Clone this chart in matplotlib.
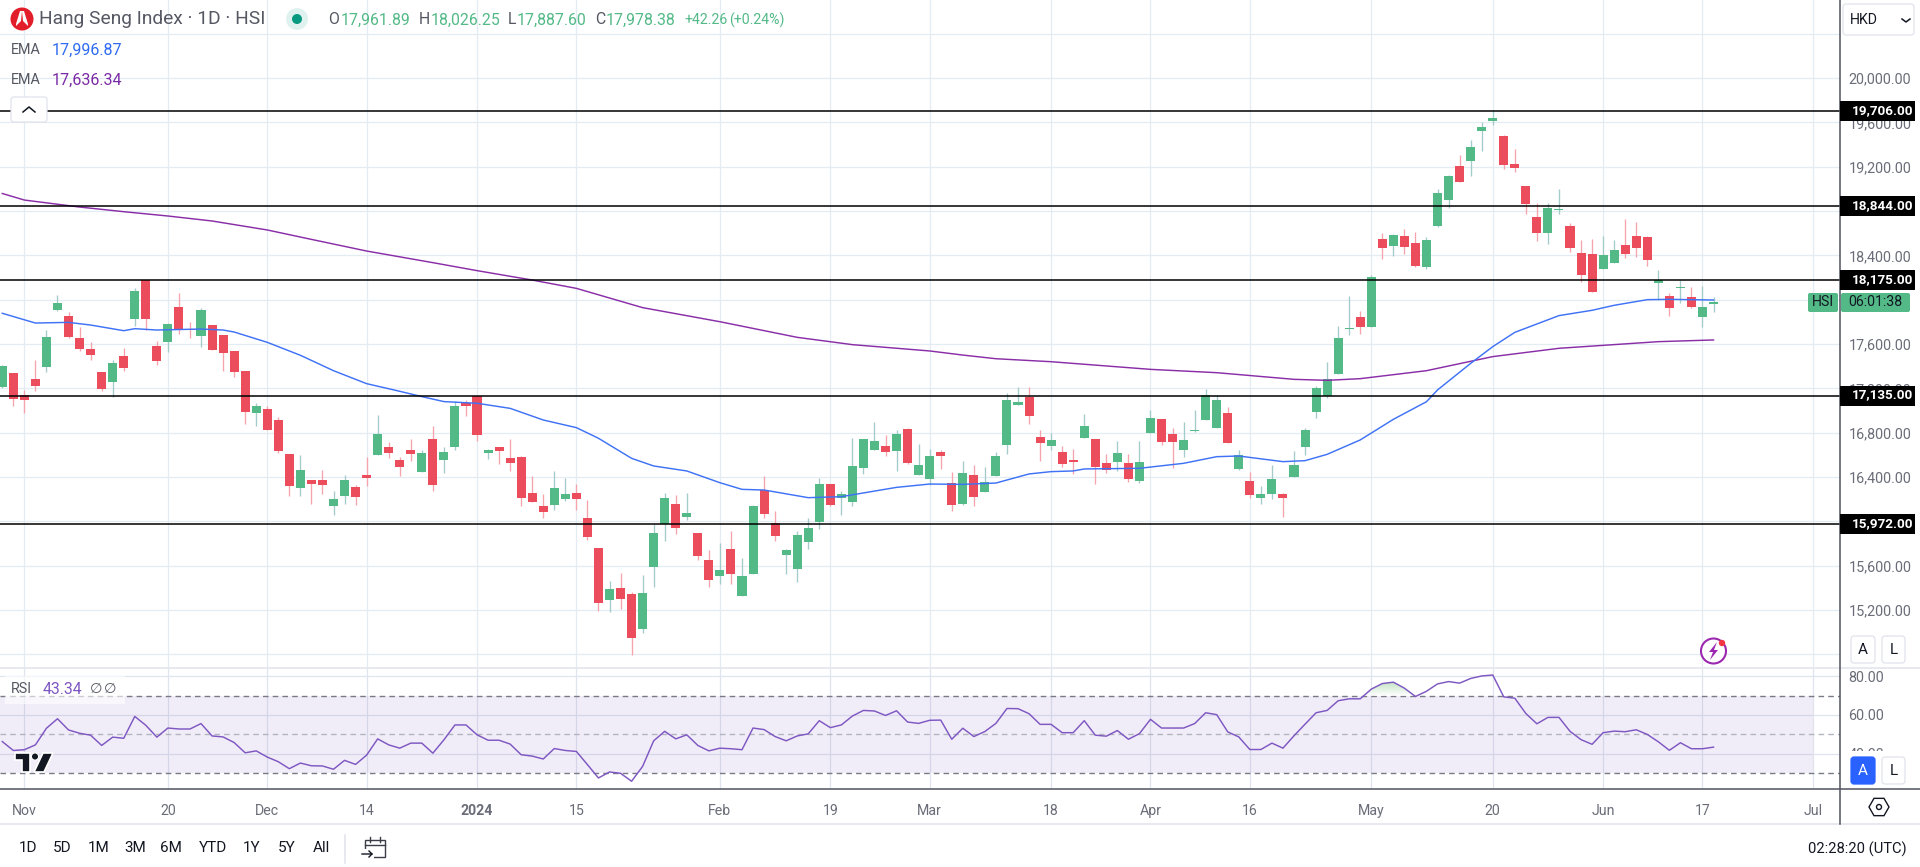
import numpy as np
import matplotlib
matplotlib.use("Agg")
import matplotlib.pyplot as plt
from matplotlib.patches import Circle, FancyBboxPatch, Polygon, Rectangle, RegularPolygon

plt.rcParams['font.family'] = ['Roboto', 'DejaVu Sans']

opens = [17212, 17338, 17140, 17284, 17392, 17907, 17853, 17654, 17555, 17347, 17257, 17492, 17825, 18178, 17582, 17618,
         17934, 17735, 17672, 17771, 17681, 17537, 17356, 16977, 17013, 16914, 16607, 16301, 16373, 16373, 16138, 16228,
         16310, 16418, 16598, 16671, 16553, 16644, 16445, 16743, 16553, 16671, 17068, 17131, 16616, 16670, 16571, 16580,
         16255, 16138, 16147, 16201, 16255, 16030, 15759, 15290, 15398, 15344, 15028, 15588, 15976, 16156, 16039, 15894,
         15651, 15506, 15750, 15326, 15524, 16282, 15985, 15696, 15569, 15813, 15994, 16337, 16210, 16174, 16481, 16643,
         16679, 16634, 16833, 16418, 16382, 16625, 16346, 16156, 16418, 16264, 16409, 16689, 17049, 17122, 16761, 16679,
         16625, 16553, 16752, 16743, 16526, 16535, 16526, 16364, 16797, 16923, 16788, 16643, 16815, 16914, 16842, 16977,
         16472, 16364, 16210, 16246, 16246, 16400, 16670, 16986, 17131, 17329, 17735, 17844, 17753, 18547, 18484, 18574,
         18511, 18295, 18665, 18899, 19206, 19251, 19522, 19612, 19477, 19224, 19026, 18746, 18602, 18812, 18665, 18421,
         18412, 18277, 18331, 18493, 18574, 18565, 18150, 18033, 18105, 18024, 17844, 17961.89]
highs = [17411, 17338, 17185, 17456, 17726, 18042, 17889, 17753, 17618, 17347, 17456, 17564, 18105, 18178, 17627, 17786,
         18060, 17798, 17924, 17771, 17681, 17537, 17356, 17067, 17040, 16941, 16607, 16598, 16373, 16463, 16273, 16418,
         16328, 16580, 16960, 16716, 16580, 16743, 16644, 16860, 16671, 17086, 17095, 17131, 16652, 16670, 16743, 16589,
         16409, 16246, 16454, 16391, 16337, 16192, 15759, 15461, 15533, 15362, 15515, 15976, 16255, 16237, 16255, 15894,
         15741, 15804, 15912, 15669, 16147, 16409, 16093, 15750, 15912, 16030, 16391, 16337, 16273, 16752, 16743, 16896,
         16779, 16824, 16842, 16697, 16652, 16643, 16445, 16544, 16508, 16490, 16625, 17158, 17212, 17212, 16824, 16797,
         16679, 16652, 16968, 16743, 16607, 16725, 16607, 16725, 17004, 16923, 16842, 16896, 17004, 17194, 17140, 17031,
         16643, 16445, 16319, 16508, 16255, 16634, 16842, 17221, 17438, 17762, 18033, 17898, 18223, 18602, 18593, 18638,
         18611, 18565, 18999, 19125, 19305, 19441, 19603, 19712, 19486, 19360, 19026, 18872, 18872, 18999, 18692, 18538,
         18547, 18574, 18538, 18728, 18701, 18574, 18268, 18060, 18177, 18114, 18123, 18026.25]
lows = [17200, 17040, 16977, 17176, 17347, 17898, 17654, 17537, 17456, 17176, 17122, 17356, 17762, 17726, 17410, 17528,
        17690, 17654, 17573, 17546, 17356, 17302, 16878, 16860, 16823, 16616, 16228, 16228, 16156, 16246, 16057, 16156,
        16147, 16319, 16598, 16571, 16409, 16544, 16445, 16273, 16436, 16644, 16950, 16725, 16562, 16517, 16454, 16138,
        16174, 16030, 16102, 16183, 16102, 15831, 15190, 15181, 15209, 14793, 14992, 15407, 15822, 15885, 16012, 15651,
        15407, 15434, 15434, 15326, 15524, 16030, 15822, 15524, 15452, 15750, 15930, 16138, 16057, 16138, 16427, 16643,
        16589, 16454, 16517, 16418, 16327, 16472, 16093, 16147, 16138, 16264, 16409, 16607, 17049, 16878, 16544, 16643,
        16490, 16427, 16752, 16337, 16436, 16454, 16355, 16346, 16797, 16689, 16481, 16580, 16806, 16914, 16842, 16707,
        16463, 16210, 16156, 16201, 16039, 16400, 16598, 16932, 17113, 17329, 17681, 17690, 17753, 18367, 18394, 18412,
        18295, 18277, 18656, 18827, 19062, 19116, 19342, 19576, 19179, 19152, 18773, 18529, 18502, 18773, 18430, 18159,
        18069, 18277, 18331, 18376, 18385, 18304, 17997, 17853, 17970, 17925, 17753, 17887.60]
closes = [17401, 17104, 17095, 17221, 17663, 17970, 17663, 17555, 17501, 17194, 17428, 17383, 18078, 17825, 17446, 17780,
          17726, 17726, 17907, 17546, 17518, 17347, 16986, 17040, 16823, 16634, 16319, 16463, 16337, 16328, 16201, 16373,
          16219, 16391, 16788, 16617, 16490, 16607, 16617, 16328, 16626, 17041, 17041, 16779, 16643, 16634, 16526, 16210,
          16174, 16084, 16300, 16246, 16201, 15858, 15263, 15389, 15299, 14947, 15353, 15894, 16210, 15939, 16075, 15687,
          15470, 15560, 15524, 15506, 16138, 16066, 15867, 15741, 15876, 15939, 16337, 16147, 16246, 16499, 16743, 16725,
          16625, 16788, 16526, 16508, 16589, 16589, 16147, 16436, 16219, 16355, 16589, 17095, 17077, 16950, 16707, 16734,
          16517, 16535, 16860, 16490, 16463, 16616, 16382, 16535, 16932, 16716, 16716, 16734, 16824, 17140, 17095, 16707,
          16598, 16237, 16246, 16382, 16210, 16508, 16824, 17203, 17284, 17654, 17744, 17753, 18205, 18466, 18584, 18475,
          18304, 18538, 18963, 19116, 19062, 19378, 19558, 19639, 19215, 19188, 18863, 18602, 18827, 18821, 18466, 18223,
          18069, 18403, 18448, 18412, 18466, 18358, 18177, 17925, 18114, 17934, 17934, 17978.38]

ema50_days = [0, 3, 6, 8, 11, 12, 14, 18, 20, 21, 24, 27, 30, 33, 36, 38, 40, 43, 46, 49, 52, 54, 57, 59, 62, 65, 67, 69,
              73, 76, 81, 84, 87, 90, 93, 95, 97, 98, 103, 107, 110, 112, 116, 118, 120, 123, 126, 129, 130, 133, 135,
              137, 141, 144, 146, 149, 151, 155]
ema50 = [17877, 17789, 17795, 17771, 17720, 17738, 17726, 17735, 17726, 17708, 17615, 17498, 17359, 17242, 17173, 17125,
         17080, 17065, 17019, 16914, 16845, 16749, 16568, 16499, 16454, 16348, 16288, 16282, 16213, 16222, 16306, 16336,
         16333, 16345, 16427, 16448, 16454, 16472, 16478, 16523, 16583, 16589, 16538, 16547, 16604, 16734, 16920, 17079,
         17185, 17425, 17576, 17705, 17856, 17904, 17949, 18000, 18003, 17996.87]
ema200_days = [0, 2, 7, 11, 15, 19, 24, 28, 33, 39, 43, 48, 52, 58, 65, 72, 77, 84, 87, 90, 95, 104, 110, 117, 120, 123,
               129, 135, 141, 150, 155]
ema200 = [18958, 18899, 18836, 18794, 18755, 18710, 18629, 18544, 18439, 18334, 18262, 18177, 18102, 17928, 17801, 17660,
          17594, 17537, 17500, 17467, 17440, 17371, 17341, 17281, 17272, 17287, 17359, 17486, 17561, 17621, 17636.34]

rsi = [46.2, 41.6, 42.0, 44.5, 53.1, 58.0, 52.2, 50.5, 49.5, 44.2, 48.5, 47.9, 59.2, 54.6, 48.5, 53.2, 52.7, 52.7, 55.5,
       49.1, 48.6, 45.7, 40.4, 41.4, 38.2, 35.8, 32.2, 35.1, 33.7, 33.6, 31.9, 36.5, 34.4, 39.2, 47.6, 44.5, 42.8, 45.4,
       45.4, 40.2, 47.1, 54.8, 54.8, 49.7, 46.9, 46.9, 44.9, 39.4, 38.7, 37.2, 42.6, 41.6, 41.1, 34.3, 27.4, 30.5, 29.8,
       25.7, 33.4, 46.6, 51.5, 47.6, 49.7, 44.2, 41.4, 42.8, 42.5, 42.0, 53.2, 52.4, 48.8, 46.6, 49.1, 50.2, 57.0, 53.4,
       54.8, 59.4, 62.3, 62.0, 59.7, 62.1, 56.3, 55.6, 57.2, 57.3, 47.4, 53.1, 48.8, 51.4, 55.6, 63.3, 63.2, 60.6, 55.1,
       55.1, 50.8, 50.8, 57.0, 49.5, 49.0, 51.9, 47.4, 50.3, 57.7, 53.2, 53.2, 53.2, 55.5, 61.1, 60.1, 51.2, 48.6, 42.1,
       42.1, 45.4, 42.8, 49.2, 55.2, 61.1, 62.3, 67.3, 68.3, 68.3, 73.3, 76.2, 76.9, 73.8, 69.5, 72.2, 76.0, 77.2, 76.4,
       78.8, 80.1, 80.6, 69.3, 68.6, 60.7, 55.4, 58.7, 58.7, 51.5, 47.2, 44.8, 50.8, 51.6, 51.3, 52.3, 49.9, 46.1, 41.7,
       45.6, 42.5, 42.5, 43.34]

levels = [19706, 18844, 18175, 17135, 15972]
price_ticks = [14800, 15200, 15600, 16000, 16400, 16800, 17200, 17600, 18000, 18400, 18800, 19200, 19600, 20000, 20400]
hidden_ticks = [14800, 16000, 18000, 18800, 20400]
rsi_ticks = [40, 60, 80]
time_ticks = [2, 15, 24, 33, 43, 52, 65, 75, 84, 95, 104, 113, 124, 135, 145, 154, 164]
time_labels = ['Nov', '20', 'Dec', '14', '2024', '15', 'Feb', '19', 'Mar', '18', 'Apr', '16', 'May', '20', 'Jun', '17', 'Jul']
periods = ['1D', '5D', '1M', '3M', '6M', 'YTD', '1Y', '5Y', 'All']

GREEN = '#53b987'
RED = '#eb4d5c'
GRID = '#e3ecf2'
AXIS = '#50535e'
GREY = '#6a6d78'
INK = '#131722'
WIDTH, HEIGHT = 1920, 867
AXIS_X = 1839.5

fig = plt.figure(figsize=(WIDTH / 100, HEIGHT / 100), dpi=100)


def pane(top, bottom):
    return fig.add_axes([0, 1 - bottom / HEIGHT, AXIS_X / WIDTH, (bottom - top) / HEIGHT])


ax = pane(0, 668)
ax_rsi = pane(669, 789)
x_limits = (-0.208, 166.41)
days = np.arange(len(closes))

# candles
up = np.array(closes) >= np.array(opens)
body_low = np.minimum(opens, closes)
body_high = np.maximum(opens, closes)
ax.vlines(days[up], np.array(lows)[up], np.array(highs)[up], color='#a3cbc9', lw=0.95, zorder=3)
ax.vlines(days[~up], np.array(lows)[~up], np.array(highs)[~up], color='#f7a3ae', lw=0.95, zorder=3)
ax.bar(days, np.maximum(body_high - body_low, 8), bottom=body_low, width=0.82,
       color=[GREEN if u else RED for u in up], linewidth=0, zorder=4)

ax.plot(ema200_days, ema200, color='#8a2ea8', lw=1.05, zorder=5)
ax.plot(ema50_days, ema50, color='#3f72f5', lw=1.05, zorder=5)
ax.hlines(levels, *x_limits, color='black', lw=1.1, zorder=6)

ax.set_xlim(*x_limits)
ax.set_ylim(14675.7, 20704.5)
ax.set_xticks(time_ticks)
ax.set_yticks(price_ticks)
ax.set_yticklabels(['' if p in hidden_ticks else f'{p:,.2f}' for p in price_ticks])
ax.grid(True, color=GRID, lw=0.9, zorder=0)
ax.set_axisbelow(True)
ax.yaxis.tick_right()
ax.tick_params(axis='y', length=0, pad=6.5, labelsize=10.4, labelcolor=GREY)
ax.tick_params(axis='x', length=0, labelbottom=False)
for s in ax.spines.values():
    s.set_visible(False)

# rsi pane
ax_rsi.fill_between([x_limits[0], 164], 30, 70, color='#7e57c2', alpha=0.1, linewidth=0, zorder=1)
for value, col in [(70, '#787b86'), (50, '#b2b5be'), (30, '#787b86')]:
    ax_rsi.axhline(value, color=col, lw=1.0, dashes=(4, 3), zorder=2)
rsi_arr = np.array(rsi)
over = ax_rsi.fill_between(days, 70, rsi_arr, where=rsi_arr > 70, interpolate=True, color='none', linewidth=0)
gradient = np.linspace(0, 1, 64).reshape(-1, 1)
cmap = matplotlib.colors.LinearSegmentedColormap.from_list('over', ['#a9d8ac', '#ffffff'])
img = ax_rsi.imshow(gradient, extent=(115, 140, 70, 80), origin='upper', aspect='auto', cmap=cmap, zorder=2)
img.set_clip_path(over.get_paths()[0], transform=ax_rsi.transData)
ax_rsi.plot(days, rsi, color='#7e57c2', lw=1.05, zorder=4)
ax_rsi.set_xlim(*x_limits)
ax_rsi.set_ylim(21.7, 83.7)
ax_rsi.set_xticks(time_ticks)
ax_rsi.set_xticklabels(time_labels)
ax_rsi.set_yticks(rsi_ticks)
ax_rsi.set_yticklabels([f'{v:.2f}' for v in rsi_ticks])
ax_rsi.grid(True, color='#dfe4ef', lw=0.9, zorder=0)
ax_rsi.set_axisbelow(True)
ax_rsi.yaxis.tick_right()
ax_rsi.tick_params(axis='y', length=0, pad=6.5, labelsize=10.4, labelcolor=GREY)
ax_rsi.tick_params(axis='x', length=0, pad=11, labelsize=10.2, labelcolor=GREY)
ax_rsi.get_xticklabels()[4].set_fontweight('bold')
for s in ax_rsi.spines.values():
    s.set_visible(False)

# interface furniture, drawn in pixel coordinates of the screenshot
ui = fig.add_axes([0, 0, 1, 1], zorder=10)
ui.set_xlim(0, WIDTH)
ui.set_ylim(HEIGHT, 0)
ui.axis('off')
ui.patch.set_alpha(0)


def label(x, y, s, color=GREY, size=10.2, ha='left', weight='normal', **kw):
    ui.text(x, y, s, color=color, fontsize=size, ha=ha, va='center', fontweight=weight, **kw)


def button(x0, y0, x1, y1, face='white', edge='#e0e3eb'):
    ui.add_patch(FancyBboxPatch((x0 + 3, y0 + 3), x1 - x0 - 6, y1 - y0 - 6, boxstyle='round,pad=3',
                                fc=face, ec=edge, lw=0.9, zorder=3))


ui.plot([0, WIDTH], [668, 668], color='#e0e3eb', lw=1.1)
ui.plot([0, WIDTH], [789, 789], color=AXIS, lw=1.1)
ui.plot([0, WIDTH], [824, 824], color='#e0e3eb', lw=1.1)
ui.plot([AXIS_X, AXIS_X], [0, 824], color=AXIS, lw=1.1)

# header
ui.add_patch(Circle((22, 19), 11.5, fc='#e21e2b', ec='none'))
ui.add_patch(Polygon([(20, 11), (22, 11), (21, 21), (16, 26), (16, 24)], fc='white', ec='none'))
ui.add_patch(Polygon([(22, 11), (24, 11), (28, 24), (28, 26), (23, 21)], fc='white', ec='none'))
label(39, 19.5, 'Hang Seng Index · 1D · HSI', color='#555863', size=13.8)
ui.add_patch(Circle((297, 19), 11, fc='#e0f2ef', ec='none'))
ui.add_patch(Circle((297, 19), 5, fc='#089981', ec='none'))
for x_l, x_v, letter, val in [(328, 341, 'O', '17,961.89'), (419, 431, 'H', '18,026.25'),
                              (508, 517, 'L', '17,887.60'), (595, 606, 'C', '17,978.38')]:
    label(x_l, 20, letter, color='#555863', size=11.4)
    label(x_v, 20, val, color=GREEN, size=11.4)
label(684, 20, '+42.26', color=GREEN, size=10.2)
label(729, 20, '(+0.24%)', color=GREEN, size=10.2)
label(11, 50, 'EMA', color='#555863', size=10.4)
label(52, 50, '17,996.87', color='#2f6bf0', size=11.6)
label(11, 80, 'EMA', color='#555863', size=10.4)
label(52, 80, '17,636.34', color='#7b2aa6', size=11.6)
button(11, 97, 47, 122)
ui.plot([23, 29, 35], [112, 107, 112], color=INK, lw=1.1, zorder=4)

# currency box
button(1843, 4, 1914, 35)
label(1850, 19.5, 'HKD', color=INK, size=10.2, zorder=4)
ui.plot([1902, 1906, 1910], [19, 22, 19], color=INK, lw=1.1, zorder=4)

# price tags
for level in levels:
    y_tag = 388.3 + (17200 - level) * 0.1108
    ui.add_patch(Rectangle((1840, y_tag - 10), 75, 20, fc='black', ec='none', zorder=3))
    label(1852, y_tag - 0.5, f'{level:,.2f}', color='white', size=9.7, weight='bold', zorder=4)
ui.add_patch(FancyBboxPatch((1810, 295), 26, 15, boxstyle='round,pad=2', fc=GREEN, ec='none', zorder=3))
ui.add_patch(FancyBboxPatch((1843, 295), 65, 15, boxstyle='round,pad=2', fc=GREEN, ec='none', zorder=3))
label(1823, 302.5, 'HSI', color=INK, size=10.2, ha='center', zorder=4)
label(1875, 302.5, '06:01:38', color=INK, size=10.2, ha='center', zorder=4)

# scale buttons
ui.add_patch(Rectangle((1841, 751), 79, 37, fc='white', ec='none', zorder=2))
button(1851, 636, 1875, 663)
button(1882, 636, 1905, 663)
label(1863, 650, 'A', color=INK, size=11, ha='center', zorder=4)
label(1893.5, 650, 'L', color=INK, size=11, ha='center', zorder=4)
button(1851, 757, 1875, 784, face='#2962ff', edge='#2962ff')
button(1882, 757, 1905, 784)
label(1863, 771, 'A', color='white', size=11, ha='center', zorder=4)
label(1893.5, 771, 'L', color=INK, size=11, ha='center', zorder=4)
ui.add_patch(RegularPolygon((1879, 807), 6, radius=10, orientation=np.pi / 2, fc='white', ec=INK, lw=1.0))
ui.add_patch(Circle((1879, 807), 2.5, fc='white', ec=INK, lw=1.0))

# lightning icon
ui.add_patch(Circle((1713.5, 651), 12.5, fc='white', ec='#9c27b0', lw=1.5))
ui.add_patch(Polygon([(1717, 642), (1709, 652), (1713, 652), (1710, 660), (1718, 650), (1714, 650)],
                     fc='#9c27b0', ec='none'))
ui.add_patch(Circle((1722, 643), 3.2, fc='#f23645', ec='none', zorder=4))

# rsi legend
ui.add_patch(Rectangle((5, 676), 120, 28, fc='white', ec='none', alpha=0.6))
label(11, 689, 'RSI', color='#555863', size=10.4)
label(43, 689, '43.34', color='#7e57c2', size=11.4)
label(90, 689, '∅', color='#555863', size=10.4)
label(104, 689, '∅', color='#555863', size=10.4)

# tradingview mark
ui.add_patch(Polygon([(15, 753), (30, 753), (30, 772), (22, 772), (22, 760), (15, 760)], fc=INK, ec='white', lw=1.2))
ui.add_patch(Circle((35, 756.5), 3.6, fc=INK, ec='white', lw=0.8))
ui.add_patch(Polygon([(43, 753), (53, 753), (44, 772), (34, 772)], fc=INK, ec='white', lw=1.2))

# bottom bar
for p_x, name in zip([27.8, 62.4, 98.8, 135.5, 171.4, 213, 252, 286.5, 321.6], periods):
    label(p_x, 848, name, color=INK, size=11, ha='center')
ui.plot([345, 345], [835, 863], color='#e0e3eb', lw=1.1)
ui.add_patch(Rectangle((365, 840), 20, 17, fc='none', ec='#3a3d46', lw=1.0))
ui.plot([365, 385], [845, 845], color='#3a3d46', lw=1.0)
ui.plot([370, 370], [837, 842], color='#3a3d46', lw=1.0)
ui.plot([380, 380], [837, 842], color='#3a3d46', lw=1.0)
ui.add_patch(Rectangle((362, 849), 12, 10, fc='white', ec='none'))
ui.plot([362, 372, 369], [854, 854, 851], color=INK, lw=1.0)
ui.plot([372, 369], [854, 857], color=INK, lw=1.0)
label(1906.5, 849, '02:28:20 (UTC)', color=INK, size=10.6, ha='right')

fig.savefig('out.png', dpi=100, facecolor='white')
plt.close(fig)
